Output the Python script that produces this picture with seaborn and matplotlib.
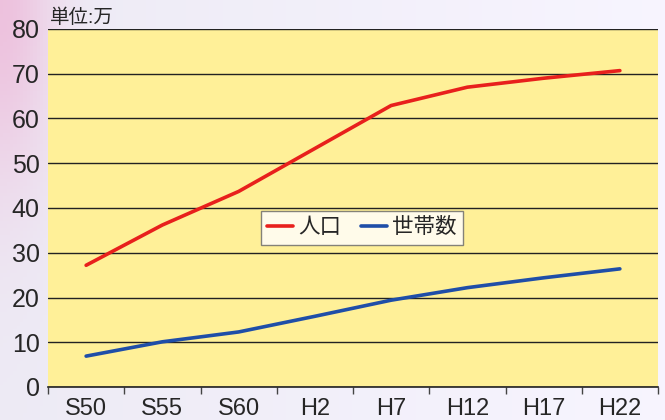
import numpy as np
import pandas as pd
import seaborn as sns
import matplotlib.pyplot as plt

years = ['S50', 'S55', 'S60', 'H2', 'H7', 'H12', 'H17', 'H22']
population = [27.2, 36.2, 43.7, 53.3, 62.9, 67.0, 69.0, 70.7]
households = [6.9, 10.1, 12.3, 15.8, 19.4, 22.2, 24.4, 26.4]
series_names = ['人口', '世帯数']

df = pd.DataFrame({'year': years * 2,
                   'value': population + households,
                   'series': [series_names[0]] * len(years) + [series_names[1]] * len(years)})
df['x'] = list(range(len(years))) * 2

sns.set_style('white')
plt.rcParams['font.family'] = ['Liberation Sans', 'Noto Sans CJK JP']

fig = plt.figure(figsize=(6.65, 4.2), dpi=100)

# 背景グラデーション
bg = fig.add_axes([0, 0, 1, 1], zorder=-10)
gx = np.linspace(0, 1, 200)
gy = np.linspace(0, 1, 120)
X, Y = np.meshgrid(gx, gy)
base = np.array([0.93, 0.92, 0.96])
img = np.ones((120, 200, 3)) * base
# 左上のピンク
pink = np.exp(-((X / 0.08) ** 2) - (((1 - Y) / 0.45) ** 2))
img[..., 1] -= 0.16 * pink
img[..., 2] -= 0.09 * pink
# 右側は明るく
img += 0.04 * X[..., None]
bg.imshow(img.clip(0, 1), aspect='auto', extent=[0, 1, 0, 1], origin='lower')
bg.axis('off')

ax = fig.add_axes([48 / 665, 33 / 420, 610 / 665, 358 / 420])
ax.set_facecolor('#fff098')

sns.lineplot(data=df, x='x', y='value', hue='series', ax=ax,
             palette={'人口': '#e8201c', '世帯数': '#1f4ea8'}, linewidth=2.6)

ax.set_xlim(-0.5, len(years) - 0.5)
ax.set_ylim(0, 80)
ax.set_yticks(range(0, 81, 10))
ax.yaxis.grid(True, color='#222222', linewidth=1.0)
ax.set_axisbelow(True)
ax.set_xticks(np.arange(-0.5, len(years), 1.0))
ax.set_xticklabels([])
ax.set_xticks(range(len(years)), minor=True)
ax.set_xticklabels(years, minor=True, fontsize=17)
ax.tick_params(axis='x', which='major', length=5, width=1, color='#444444', direction='out', bottom=True)
ax.tick_params(axis='x', which='minor', length=0, pad=8)
ax.tick_params(axis='y', labelsize=18, length=0, pad=6)
for s in ['top', 'right', 'left']:
    ax.spines[s].set_visible(False)
ax.spines['bottom'].set_color('#222222')
ax.spines['bottom'].set_linewidth(1.2)
ax.set_xlabel('')
ax.set_ylabel('')

leg = ax.legend(loc='center', bbox_to_anchor=(0.515, 0.445), ncol=2, fontsize=15.5,
                frameon=True, fancybox=False, handlelength=1.2, columnspacing=0.9,
                handletextpad=0.25, borderpad=0.3)
leg.get_frame().set_edgecolor('#666666')
leg.get_frame().set_linewidth(1.0)

fig.text(50 / 665, 1 - 18 / 420, '単位:万', fontsize=14, va='center', ha='left')

fig.savefig('out.png', dpi=100)
